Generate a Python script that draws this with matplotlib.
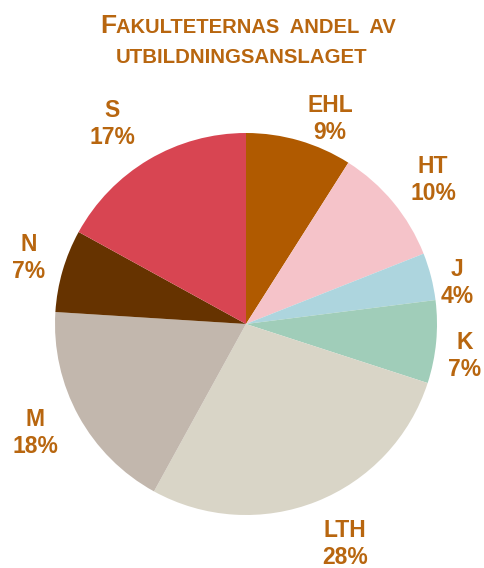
import matplotlib
matplotlib.use('Agg')
import matplotlib.pyplot as plt

# data
faculties = ['EHL', 'HT', 'J', 'K', 'LTH', 'M', 'N', 'S']
shares = [9, 10, 4, 7, 28, 18, 7, 17]
colors = ['#B05A00', '#F5C3C9', '#ADD5DE', '#A0CDB9', '#D9D5C7', '#C2B7AD', '#663300', '#D84552']

txt_color = '#B8660F'
plt.rcParams['font.family'] = ['Liberation Sans', 'DejaVu Sans']

fig = plt.figure(figsize=(4.84, 5.68), dpi=100)
ax = fig.add_axes([0, 0, 1, 1])

W, H = 484, 568
ax.pie(shares, colors=colors, startangle=90, counterclock=False,
       center=(246, H - 324), radius=191,
       wedgeprops={'linewidth': 0})
ax.set_xlim(0, W)
ax.set_ylim(0, H)
ax.set_aspect('equal')
ax.axis('off')

# label positions (pixels from top-left)
label_pos = {
    'EHL': (330, 119),
    'HT': (433, 180),
    'J': (457, 283),
    'K': (465, 356),
    'LTH': (345, 544),
    'M': (35, 433),
    'N': (29, 258),
    'S': (112, 124),
}
for name, val in zip(faculties, shares):
    x, y = label_pos[name]
    ax.text(x, H - y, '%s\n%d%%' % (name, val), ha='center', va='center',
            fontsize=16.5, fontweight='bold', color=txt_color, linespacing=1.2)

# title with small caps look
ax.text(116, H - 33, 'F', ha='right', va='baseline', fontsize=19,
        fontweight='bold', color=txt_color)
ax.text(116, H - 33, 'AKULTETERNAS  ANDEL  AV', ha='left', va='baseline',
        fontsize=14.5, fontweight='bold', color=txt_color)
ax.text(242, H - 63, 'UTBILDNINGSANSLAGET', ha='center', va='baseline',
        fontsize=14.7, fontweight='bold', color=txt_color)

fig.savefig('out.png', dpi=100)
